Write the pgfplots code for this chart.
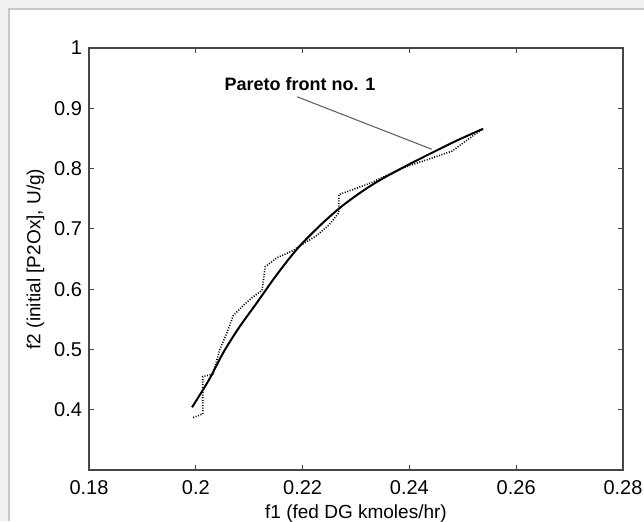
\documentclass[border=0pt]{standalone}
\usepackage{pgfplots}
\pgfplotsset{compat=1.18}
\usepackage{fontspec}
\setmainfont{Liberation Sans}
\definecolor{bggray}{RGB}{240,241,243}
\definecolor{edgegray}{RGB}{200,200,200}
\definecolor{axgray}{RGB}{70,70,70}

\begin{document}
\begin{tikzpicture}
% frame of the figure window (1 px of the reference = 0.5pt)
\useasboundingbox (0pt,0pt) rectangle (322pt,260.5pt);
\fill[bggray] (0pt,0pt) rectangle (322pt,260.5pt);
\fill[white] (4.5pt,0pt) rectangle (322pt,256pt);
\draw[edgegray,line width=0.6pt] (4.5pt,0pt) -- (4.5pt,256pt) -- (322pt,256pt);
\begin{axis}[
    at={(44.5pt,25.5pt)}, anchor=south west,
    scale only axis,
    width=267pt, height=211pt,
    xmin=0.18, xmax=0.28,
    ymin=0.3, ymax=1,
    xtick={0.18,0.2,...,0.28},
    ytick={0.4,0.5,...,1.0},
    tick align=inside,
    major tick length=2.5pt,
    axis line style={axgray,line width=0.7pt},
    every tick/.style={axgray,line width=0.6pt},
    tick label style={font=\fontsize{10}{12}\selectfont},
    /pgf/number format/assume math mode=true,
    xticklabel style={/pgf/number format/fixed,yshift=-1.5pt},
    yticklabel style={/pgf/number format/fixed},
    xlabel={f1 (fed DG kmoles/hr)},
    ylabel={f2 (initial [P2Ox], U/g)},
    label style={font=\fontsize{9.5}{11}\selectfont},
    xlabel style={yshift=1.5pt},
    ylabel style={yshift=-2pt},
]
% smooth Pareto front
\addplot[black, line width=1pt, smooth] coordinates {
(0.1993,0.404) (0.2025,0.450) (0.2051,0.494) (0.2080,0.535)
(0.2114,0.577) (0.2150,0.622) (0.2190,0.667) (0.2232,0.705)
(0.2270,0.735) (0.2308,0.760) (0.2345,0.781) (0.2395,0.805)
(0.2444,0.827) (0.2490,0.847) (0.2538,0.866)
};
% raw (dotted) Pareto front
\addplot[black, line width=0.8pt, dash pattern=on 0.5pt off 0.8pt] coordinates {
(0.1995,0.387) (0.2013,0.393) (0.2013,0.455) (0.2032,0.459)
(0.2045,0.500) (0.2058,0.527) (0.2070,0.556) (0.2090,0.574)
(0.2107,0.587) (0.2124,0.598) (0.2130,0.637) (0.2152,0.652)
(0.2182,0.664) (0.2195,0.672) (0.2225,0.688) (0.2250,0.707)
(0.2268,0.727) (0.2268,0.757) (0.2300,0.767) (0.2330,0.777)
(0.2360,0.790) (0.2400,0.805) (0.2444,0.818) (0.2480,0.829)
(0.2523,0.857) (0.2538,0.866)
};
\node[font=\fontsize{9}{11}\selectfont\bfseries] at (axis cs:0.2195,0.940) {Pareto front no. 1};
\draw[black!65, line width=0.5pt] (axis cs:0.2190,0.919) -- (axis cs:0.2442,0.832);
\end{axis}
\end{tikzpicture}
\end{document}
